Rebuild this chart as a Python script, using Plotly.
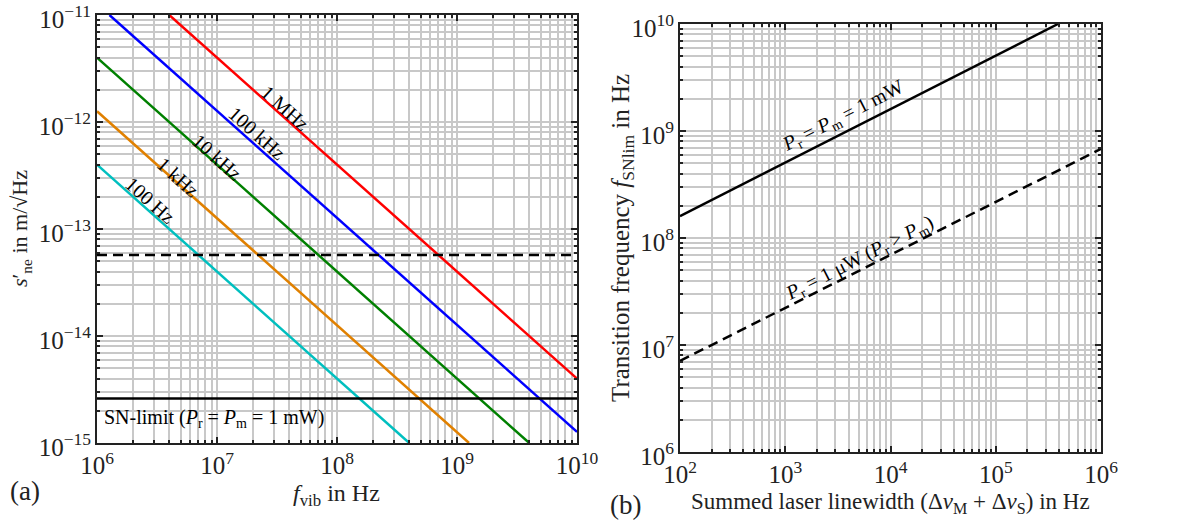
import plotly.graph_objects as go

# ---------------- data ----------------
# Panel (a): visible segments of each line (f_vib in Hz, s'_ne in m/sqrt(Hz))
line_labels = ["100 Hz", "1 kHz", "10 kHz", "100 kHz", "1 MHz"]
line_colors = ["#00bfbf", "#e08000", "#008000", "#0000ff", "#ff0000"]
line_x = [[1e6, 4.0e8], [1e6, 1.26e9], [1e6, 4.0e9], [1.27e6, 1e10], [4.0e6, 1e10]]
line_y = [[4.0e-13, 1e-15], [1.26e-12, 1e-15], [4.0e-12, 1e-15], [1e-11, 1.27e-15], [1e-11, 4.0e-15]]
label_pos_x = [6.44, 6.675, 7.0, 7.333, 7.567]      # log10 positions of labels
label_pos_y = [-12.73, -12.514, -12.327, -12.103, -11.869]
fvib_range = [1e6, 1e10]
dashed_level = [5.7e-14, 5.7e-14]
sn_level = [2.6e-15, 2.6e-15]

# Panel (b): transition frequency vs summed linewidth
lw_solid = [1e2, 3.9e5]
f_solid = [1.6e8, 1e10]
lw_dashed = [1e2, 1e6]
f_dashed = [7.1e6, 6.8e8]

FONT = "Liberation Serif"
GRID = "#c8c8c8"
DASH = "10px,6px"

fig = go.Figure()

for lx, ly, c in zip(line_x, line_y, line_colors):
    fig.add_trace(go.Scatter(x=lx, y=ly, mode="lines", line=dict(color=c, width=2.5),
                             xaxis="x", yaxis="y", showlegend=False))
fig.add_trace(go.Scatter(x=fvib_range, y=dashed_level, mode="lines",
                         line=dict(color="black", width=2.5, dash=DASH),
                         xaxis="x", yaxis="y", showlegend=False))
fig.add_trace(go.Scatter(x=fvib_range, y=sn_level, mode="lines",
                         line=dict(color="black", width=2.5),
                         xaxis="x", yaxis="y", showlegend=False))

fig.add_trace(go.Scatter(x=lw_solid, y=f_solid, mode="lines",
                         line=dict(color="black", width=2.5),
                         xaxis="x2", yaxis="y2", showlegend=False))
fig.add_trace(go.Scatter(x=lw_dashed, y=f_dashed, mode="lines",
                         line=dict(color="black", width=2.5, dash=DASH),
                         xaxis="x2", yaxis="y2", showlegend=False))


def ax(domain, rng, anchor, shift=0):
    return dict(
        type="log", range=rng, domain=domain, anchor=anchor, automargin=False,
        ticklabeloverflow="allow", ticklabelshift=shift,
        showline=True, linecolor="#222222", linewidth=2, mirror="allticks",
        ticks="inside", ticklen=6, tickwidth=1.5, tickcolor="#222222",
        dtick=1, exponentformat="power", showexponent="all",
        tickfont=dict(family=FONT, size=20, color="#222222"),
        showgrid=True, gridcolor=GRID, gridwidth=2, zeroline=False,
        minor=dict(ticks="inside", ticklen=3, tickcolor="#222222", dtick="D1",
                   showgrid=True, gridcolor=GRID, gridwidth=2),
    )


W, H = 1204, 521
L = dict(x0=97, x1=577, y0=15, y1=443)
R = dict(x0=680, x1=1101, y0=24, y1=452)

fig.update_layout(
    width=W, height=H,
    margin=dict(l=0, r=0, t=0, b=0, autoexpand=False),
    paper_bgcolor="white", plot_bgcolor="white",
    font=dict(family=FONT, color="#222222"),
    xaxis=ax([L["x0"] / W, L["x1"] / W], [6, 10], "y"),
    yaxis=ax([1 - L["y1"] / H, 1 - L["y0"] / H], [-15, -11], "x", shift=4),
    xaxis2=ax([R["x0"] / W, R["x1"] / W], [2, 6], "y2"),
    yaxis2=ax([1 - R["y1"] / H, 1 - R["y0"] / H], [6, 10], "x2", shift=4),
)

ann = []
for t, xx, yy in zip(line_labels, label_pos_x, label_pos_y):
    ann.append(dict(x=xx, y=yy, xref="x", yref="y", text=t, showarrow=False,
                    xanchor="center", yanchor="middle",
                    textangle=41.7, font=dict(family=FONT, size=20, color="black")))
ann.append(dict(x=6.04, y=-14.77, xref="x", yref="y", xanchor="left", yanchor="middle",
                text="SN-limit (<i>P</i><sub>r</sub> = <i>P</i><sub>m</sub> = 1 mW)",
                showarrow=False, font=dict(family=FONT, size=20, color="black")))
ann.append(dict(x=3.549, y=9.131, xref="x2", yref="y2", xanchor="center", yanchor="middle",
                text="<i>P</i><sub>r</sub> = <i>P</i><sub>m</sub> = 1 mW",
                showarrow=False, textangle=-27, font=dict(family=FONT, size=20, color="black")))
ann.append(dict(x=3.71, y=7.813, xref="x2", yref="y2", xanchor="center", yanchor="middle",
                text="<i>P</i><sub>r</sub> = 1 μW (<i>P</i><sub>r</sub> > <i>P</i><sub>m</sub>)",
                showarrow=False, textangle=-27, font=dict(family=FONT, size=20, color="black")))


def pann(x, y, text, size=22, angle=0):
    return dict(x=x / W, y=1 - y / H, xref="paper", yref="paper", text=text,
                showarrow=False, xanchor="center", yanchor="middle", textangle=angle,
                font=dict(family=FONT, size=size, color="#222222"))


# axis titles
ann.append(pann(337, 495, "<i>f</i><sub>vib</sub> in Hz", size=24))
ann.append(pann(21, 229, "<i>s</i>′<sub>ne</sub> in m/√Hz", size=22, angle=-90))
ann.append(pann(890, 503, "Summed laser linewidth (Δ<i>ν</i><sub>M</sub> + Δ<i>ν</i><sub>S</sub>) in Hz", size=23))
ann.append(pann(622, 238, "Transition frequency <i>f</i><sub>SNlim</sub> in Hz", size=25, angle=-90))
# panel labels
ann.append(pann(25, 491, "(a)", size=27))
ann.append(pann(625, 505, "(b)", size=27))

fig.update_layout(annotations=ann)
fig.write_html("out.html")
